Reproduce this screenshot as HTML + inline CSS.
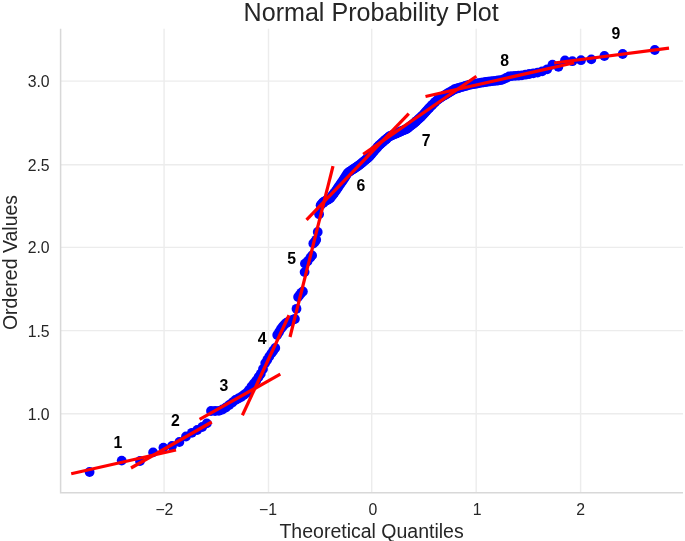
<!DOCTYPE html>
<html><head><meta charset="utf-8"><title>Normal Probability Plot</title>
<style>html,body{margin:0;padding:0;background:#fff}svg{display:block;filter:blur(0.35px)}text{font-family:"Liberation Sans",Arial,sans-serif;fill:#262626}.t{font-size:15.8px}.n{font-weight:bold;font-size:15.8px;fill:#000;text-anchor:middle}</style></head><body>
<svg width="685" height="541" viewBox="0 0 685 541">
<rect width="685" height="541" fill="#fff"/>
<g stroke="#ececec" stroke-width="1.4">
<line x1="164.1" y1="28.8" x2="164.1" y2="492.8"/>
<line x1="268.5" y1="28.8" x2="268.5" y2="492.8"/>
<line x1="371.7" y1="28.8" x2="371.7" y2="492.8"/>
<line x1="476.2" y1="28.8" x2="476.2" y2="492.8"/>
<line x1="580.6" y1="28.8" x2="580.6" y2="492.8"/>
<line x1="60.6" y1="81.1" x2="683.0" y2="81.1"/>
<line x1="60.6" y1="164.7" x2="683.0" y2="164.7"/>
<line x1="60.6" y1="247.4" x2="683.0" y2="247.4"/>
<line x1="60.6" y1="330.6" x2="683.0" y2="330.6"/>
<line x1="60.6" y1="413.8" x2="683.0" y2="413.8"/>
</g>
<path d="M60.6 28.8V492.8H683.0" fill="none" stroke="#d8d8d8" stroke-width="1.5"/>
<g fill="#0000ff">
<circle cx="89.6" cy="472.0" r="4.9"/>
<circle cx="121.7" cy="460.6" r="4.9"/>
<circle cx="140.0" cy="461.0" r="4.9"/>
<circle cx="153.1" cy="452.4" r="4.9"/>
<circle cx="163.4" cy="447.6" r="4.9"/>
<circle cx="172.0" cy="446.0" r="4.9"/>
<circle cx="179.4" cy="442.0" r="4.9"/>
<circle cx="186.0" cy="436.5" r="4.9"/>
<circle cx="191.9" cy="432.8" r="4.9"/>
<circle cx="197.2" cy="430.0" r="4.9"/>
<circle cx="202.2" cy="427.0" r="4.9"/>
<circle cx="206.8" cy="423.4" r="4.9"/>
<circle cx="211.0" cy="411.0" r="4.9"/>
<circle cx="215.1" cy="411.0" r="4.9"/>
<circle cx="218.9" cy="410.8" r="4.9"/>
<circle cx="222.5" cy="409.5" r="4.9"/>
<circle cx="225.9" cy="407.5" r="4.9"/>
<circle cx="229.2" cy="405.0" r="4.9"/>
<circle cx="232.4" cy="402.5" r="4.9"/>
<circle cx="235.4" cy="400.0" r="4.9"/>
<circle cx="238.3" cy="398.5" r="4.9"/>
<circle cx="241.1" cy="397.0" r="4.9"/>
<circle cx="243.8" cy="395.0" r="4.9"/>
<circle cx="246.5" cy="393.0" r="4.9"/>
<circle cx="249.0" cy="390.0" r="4.9"/>
<circle cx="251.5" cy="386.5" r="4.9"/>
<circle cx="253.9" cy="383.5" r="4.9"/>
<circle cx="256.3" cy="380.5" r="4.9"/>
<circle cx="258.6" cy="377.0" r="4.9"/>
<circle cx="260.8" cy="373.7" r="4.9"/>
<circle cx="263.0" cy="369.0" r="4.9"/>
<circle cx="265.2" cy="363.1" r="4.9"/>
<circle cx="267.3" cy="359.7" r="4.9"/>
<circle cx="269.3" cy="356.5" r="4.9"/>
<circle cx="271.4" cy="353.4" r="4.9"/>
<circle cx="273.3" cy="350.7" r="4.9"/>
<circle cx="275.3" cy="348.0" r="4.9"/>
<circle cx="277.2" cy="335.0" r="4.9"/>
<circle cx="279.1" cy="332.0" r="4.9"/>
<circle cx="280.9" cy="328.9" r="4.9"/>
<circle cx="282.8" cy="326.5" r="4.9"/>
<circle cx="284.6" cy="324.4" r="4.9"/>
<circle cx="286.3" cy="323.0" r="4.9"/>
<circle cx="288.1" cy="322.0" r="4.9"/>
<circle cx="289.8" cy="321.0" r="4.9"/>
<circle cx="291.5" cy="320.3" r="4.9"/>
<circle cx="293.2" cy="319.6" r="4.9"/>
<circle cx="294.9" cy="319.0" r="4.9"/>
<circle cx="296.5" cy="308.8" r="4.9"/>
<circle cx="298.1" cy="297.0" r="4.9"/>
<circle cx="299.7" cy="295.0" r="4.9"/>
<circle cx="301.3" cy="292.8" r="4.9"/>
<circle cx="302.9" cy="291.5" r="4.9"/>
<circle cx="304.6" cy="272.1" r="4.9"/>
<circle cx="304.9" cy="263.6" r="4.9"/>
<circle cx="307.6" cy="261.2" r="4.9"/>
<circle cx="310.4" cy="257.6" r="4.9"/>
<circle cx="312.1" cy="255.4" r="4.9"/>
<circle cx="313.3" cy="243.5" r="4.9"/>
<circle cx="314.8" cy="242.0" r="4.9"/>
<circle cx="316.2" cy="239.8" r="4.9"/>
<circle cx="317.7" cy="232.0" r="4.9"/>
<circle cx="319.1" cy="214.2" r="4.9"/>
<circle cx="320.6" cy="205.2" r="4.9"/>
<circle cx="322.0" cy="203.5" r="4.9"/>
<circle cx="323.4" cy="202.7" r="4.9"/>
<circle cx="323.5" cy="202.0" r="4.9"/>
<circle cx="324.9" cy="201.2" r="4.9"/>
<circle cx="326.3" cy="200.5" r="4.9"/>
<circle cx="327.7" cy="199.8" r="4.9"/>
<circle cx="329.0" cy="199.0" r="4.9"/>
<circle cx="330.4" cy="198.0" r="4.9"/>
<circle cx="331.7" cy="196.2" r="4.9"/>
<circle cx="333.1" cy="194.5" r="4.9"/>
<circle cx="334.4" cy="192.7" r="4.9"/>
<circle cx="335.8" cy="190.9" r="4.9"/>
<circle cx="337.1" cy="188.9" r="4.9"/>
<circle cx="338.4" cy="187.0" r="4.9"/>
<circle cx="339.7" cy="185.1" r="4.9"/>
<circle cx="341.0" cy="183.1" r="4.9"/>
<circle cx="342.4" cy="181.2" r="4.9"/>
<circle cx="343.7" cy="179.3" r="4.9"/>
<circle cx="345.0" cy="177.3" r="4.9"/>
<circle cx="346.3" cy="175.2" r="4.9"/>
<circle cx="347.5" cy="173.2" r="4.9"/>
<circle cx="348.8" cy="172.1" r="4.9"/>
<circle cx="350.1" cy="171.3" r="4.9"/>
<circle cx="351.4" cy="170.4" r="4.9"/>
<circle cx="352.7" cy="169.6" r="4.9"/>
<circle cx="353.9" cy="168.7" r="4.9"/>
<circle cx="355.2" cy="167.9" r="4.9"/>
<circle cx="356.5" cy="167.0" r="4.9"/>
<circle cx="357.7" cy="166.2" r="4.9"/>
<circle cx="359.0" cy="165.3" r="4.9"/>
<circle cx="360.3" cy="164.3" r="4.9"/>
<circle cx="361.5" cy="163.2" r="4.9"/>
<circle cx="362.8" cy="162.2" r="4.9"/>
<circle cx="364.0" cy="161.1" r="4.9"/>
<circle cx="365.3" cy="160.1" r="4.9"/>
<circle cx="366.6" cy="159.0" r="4.9"/>
<circle cx="367.8" cy="158.0" r="4.9"/>
<circle cx="369.1" cy="156.9" r="4.9"/>
<circle cx="370.3" cy="155.5" r="4.9"/>
<circle cx="371.6" cy="154.0" r="4.9"/>
<circle cx="372.8" cy="152.6" r="4.9"/>
<circle cx="374.1" cy="151.1" r="4.9"/>
<circle cx="375.3" cy="149.6" r="4.9"/>
<circle cx="376.6" cy="148.2" r="4.9"/>
<circle cx="377.8" cy="146.7" r="4.9"/>
<circle cx="379.1" cy="145.3" r="4.9"/>
<circle cx="380.4" cy="144.2" r="4.9"/>
<circle cx="381.6" cy="143.1" r="4.9"/>
<circle cx="382.9" cy="142.0" r="4.9"/>
<circle cx="384.1" cy="140.9" r="4.9"/>
<circle cx="385.4" cy="139.8" r="4.9"/>
<circle cx="386.7" cy="138.7" r="4.9"/>
<circle cx="387.9" cy="137.6" r="4.9"/>
<circle cx="389.2" cy="136.5" r="4.9"/>
<circle cx="390.5" cy="136.0" r="4.9"/>
<circle cx="391.7" cy="135.4" r="4.9"/>
<circle cx="393.0" cy="134.9" r="4.9"/>
<circle cx="394.3" cy="134.3" r="4.9"/>
<circle cx="395.6" cy="133.7" r="4.9"/>
<circle cx="396.9" cy="133.2" r="4.9"/>
<circle cx="398.1" cy="132.6" r="4.9"/>
<circle cx="399.4" cy="132.1" r="4.9"/>
<circle cx="400.7" cy="131.5" r="4.9"/>
<circle cx="402.0" cy="130.9" r="4.9"/>
<circle cx="403.4" cy="130.4" r="4.9"/>
<circle cx="404.7" cy="129.8" r="4.9"/>
<circle cx="406.0" cy="129.2" r="4.9"/>
<circle cx="407.3" cy="128.6" r="4.9"/>
<circle cx="408.6" cy="127.5" r="4.9"/>
<circle cx="410.0" cy="126.4" r="4.9"/>
<circle cx="411.3" cy="125.4" r="4.9"/>
<circle cx="412.7" cy="124.3" r="4.9"/>
<circle cx="414.0" cy="123.2" r="4.9"/>
<circle cx="415.4" cy="122.0" r="4.9"/>
<circle cx="416.7" cy="120.8" r="4.9"/>
<circle cx="418.1" cy="119.5" r="4.9"/>
<circle cx="419.5" cy="118.3" r="4.9"/>
<circle cx="420.9" cy="117.0" r="4.9"/>
<circle cx="422.3" cy="115.6" r="4.9"/>
<circle cx="423.7" cy="114.1" r="4.9"/>
<circle cx="425.1" cy="112.5" r="4.9"/>
<circle cx="426.6" cy="110.9" r="4.9"/>
<circle cx="428.0" cy="109.3" r="4.9"/>
<circle cx="429.5" cy="107.7" r="4.9"/>
<circle cx="430.9" cy="106.3" r="4.9"/>
<circle cx="432.4" cy="104.8" r="4.9"/>
<circle cx="433.9" cy="103.3" r="4.9"/>
<circle cx="435.4" cy="101.8" r="4.9"/>
<circle cx="436.9" cy="100.4" r="4.9"/>
<circle cx="438.4" cy="99.2" r="4.9"/>
<circle cx="440.0" cy="98.0" r="4.9"/>
<circle cx="441.5" cy="97.1" r="4.9"/>
<circle cx="443.1" cy="96.1" r="4.9"/>
<circle cx="444.7" cy="95.2" r="4.9"/>
<circle cx="446.3" cy="94.2" r="4.9"/>
<circle cx="447.9" cy="93.2" r="4.9"/>
<circle cx="449.5" cy="92.3" r="4.9"/>
<circle cx="451.2" cy="91.3" r="4.9"/>
<circle cx="452.9" cy="90.3" r="4.9"/>
<circle cx="454.6" cy="89.2" r="4.9"/>
<circle cx="456.3" cy="88.7" r="4.9"/>
<circle cx="458.1" cy="88.2" r="4.9"/>
<circle cx="459.8" cy="87.6" r="4.9"/>
<circle cx="461.6" cy="87.1" r="4.9"/>
<circle cx="463.5" cy="86.6" r="4.9"/>
<circle cx="465.3" cy="86.0" r="4.9"/>
<circle cx="467.2" cy="85.5" r="4.9"/>
<circle cx="469.1" cy="84.9" r="4.9"/>
<circle cx="471.1" cy="84.5" r="4.9"/>
<circle cx="473.0" cy="84.2" r="4.9"/>
<circle cx="475.1" cy="83.8" r="4.9"/>
<circle cx="477.1" cy="83.5" r="4.9"/>
<circle cx="479.2" cy="83.1" r="4.9"/>
<circle cx="481.4" cy="82.7" r="4.9"/>
<circle cx="483.6" cy="82.3" r="4.9"/>
<circle cx="485.8" cy="82.0" r="4.9"/>
<circle cx="488.1" cy="81.7" r="4.9"/>
<circle cx="490.5" cy="81.4" r="4.9"/>
<circle cx="492.9" cy="81.1" r="4.9"/>
<circle cx="495.4" cy="80.8" r="4.9"/>
<circle cx="497.9" cy="80.5" r="4.9"/>
<circle cx="500.6" cy="80.2" r="4.9"/>
<circle cx="503.3" cy="79.4" r="4.9"/>
<circle cx="506.1" cy="78.0" r="4.9"/>
<circle cx="509.0" cy="76.5" r="4.9"/>
<circle cx="512.0" cy="76.1" r="4.9"/>
<circle cx="515.2" cy="75.9" r="4.9"/>
<circle cx="518.5" cy="75.7" r="4.9"/>
<circle cx="521.9" cy="75.3" r="4.9"/>
<circle cx="525.5" cy="74.7" r="4.9"/>
<circle cx="529.3" cy="74.0" r="4.9"/>
<circle cx="533.4" cy="73.4" r="4.9"/>
<circle cx="537.6" cy="72.6" r="4.9"/>
<circle cx="542.2" cy="71.3" r="4.9"/>
<circle cx="547.2" cy="69.3" r="4.9"/>
<circle cx="552.5" cy="64.6" r="4.9"/>
<circle cx="558.4" cy="66.8" r="4.9"/>
<circle cx="565.0" cy="60.5" r="4.9"/>
<circle cx="572.4" cy="61.2" r="4.9"/>
<circle cx="581.0" cy="60.2" r="4.9"/>
<circle cx="591.3" cy="59.4" r="4.9"/>
<circle cx="604.4" cy="56.0" r="4.9"/>
<circle cx="622.7" cy="54.0" r="4.9"/>
<circle cx="654.8" cy="50.0" r="4.9"/>
</g>
<g stroke="#ff0000" stroke-width="3.2" stroke-linecap="butt">
<line x1="71.2" y1="473.8" x2="176" y2="450"/>
<line x1="131" y1="468" x2="211.8" y2="422"/>
<line x1="199.6" y1="419.4" x2="280.3" y2="374.2"/>
<line x1="242.4" y1="415.2" x2="289" y2="315.2"/>
<line x1="290" y1="337" x2="333" y2="166.2"/>
<line x1="306.5" y1="219.8" x2="408.8" y2="113.6"/>
<line x1="363.2" y1="154.4" x2="476.4" y2="76.3"/>
<line x1="425.5" y1="96.5" x2="574.2" y2="62.8"/>
<line x1="554.1" y1="63" x2="669" y2="48.2"/>
</g>
<text x="371.2" y="20.5" text-anchor="middle" font-size="25.1">Normal Probability Plot</text>
<text x="371.6" y="537.7" text-anchor="middle" font-size="19.5">Theoretical Quantiles</text>
<text transform="translate(17.0,262.5) rotate(-90)" text-anchor="middle" font-size="19.5">Ordered Values</text>
<text class="t" x="164.4" y="514.5" text-anchor="middle">−2</text>
<text class="t" x="268.0" y="514.5" text-anchor="middle">−1</text>
<text class="t" x="372.9" y="514.5" text-anchor="middle">0</text>
<text class="t" x="477.2" y="514.5" text-anchor="middle">1</text>
<text class="t" x="580.6" y="514.5" text-anchor="middle">2</text>
<text class="t" x="49.6" y="87.0" text-anchor="end">3.0</text>
<text class="t" x="49.6" y="170.6" text-anchor="end">2.5</text>
<text class="t" x="49.6" y="253.3" text-anchor="end">2.0</text>
<text class="t" x="49.6" y="336.5" text-anchor="end">1.5</text>
<text class="t" x="49.6" y="419.7" text-anchor="end">1.0</text>
<text class="n" x="118" y="447.6">1</text>
<text class="n" x="175.5" y="426.0">2</text>
<text class="n" x="224" y="391.1">3</text>
<text class="n" x="262.2" y="344.0">4</text>
<text class="n" x="291.6" y="263.6">5</text>
<text class="n" x="361" y="190.6">6</text>
<text class="n" x="426.2" y="145.6">7</text>
<text class="n" x="504.7" y="66.1">8</text>
<text class="n" x="616" y="39.2">9</text>
</svg></body></html>
